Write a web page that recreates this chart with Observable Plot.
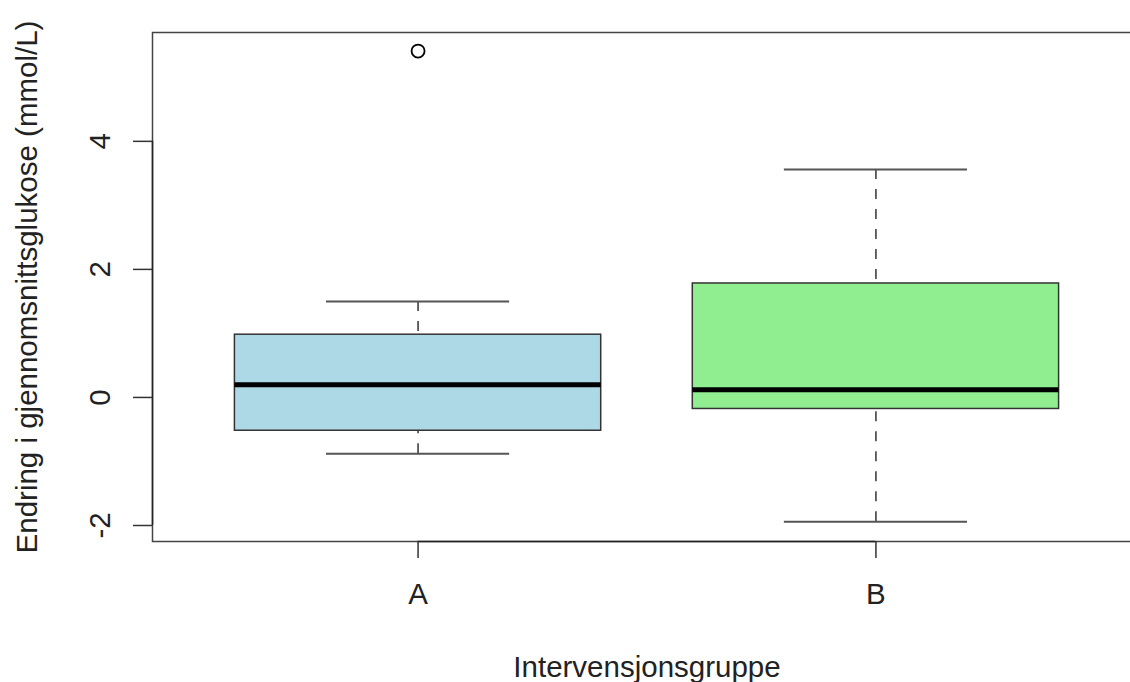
<!DOCTYPE html>
<html>
<head>
<meta charset="utf-8">
<script src="https://cdn.jsdelivr.net/npm/d3@7"></script>
<script src="https://cdn.jsdelivr.net/npm/@observablehq/plot@0.6"></script>
<style>
  html, body { margin: 0; padding: 0; background: #fff; overflow: hidden; }
  #chart svg { max-width: none !important; display: block; }
</style>
</head>
<body>
<div id="chart"></div>
<script>
// Data
const groups = ["A", "B"];
const fills = ["#ADD8E6", "#90EE90"];
const whiskerLow = [-0.88, -1.94];
const q1 = [-0.52, -0.18];
const medians = [0.20, 0.12];
const q3 = [0.98, 1.78];
const whiskerHigh = [1.50, 3.56];
const outlierGroups = ["A"];
const outlierValues = [5.41];
const yTicks = [-2, 0, 2, 4];
const yLabel = "Endring i gjennomsnittsglukose (mmol/L)";
const xLabel = "Intervensjonsgruppe";

const boxes = groups.map((g, i) => ({
  group: g, pos: i + 1, fill: fills[i],
  lo: whiskerLow[i], q1: q1[i], med: medians[i], q3: q3[i], hi: whiskerHigh[i]
}));
const outliers = outlierGroups.map((g, i) => ({pos: groups.indexOf(g) + 1, value: outlierValues[i]}));

const halfBox = 0.4, halfStaple = 0.2;
const xDomain = [0.42, 2.58];
const yDomain = [-2.25, 5.70];
const font = "'Liberation Sans', Arial, Helvetica, sans-serif";
const fs = 29.5;

const chart = Plot.plot({
  width: 1145,
  height: 682,
  marginLeft: 152,
  marginRight: 4,
  marginTop: 32,
  marginBottom: 141,
  style: {fontFamily: font, fontSize: fs + "px", color: "#222", background: "#fff", maxWidth: "none"},
  x: {domain: xDomain, axis: null},
  y: {domain: yDomain, axis: null},
  marks: [
    // boxes
    Plot.rect(boxes, {x1: d => d.pos - halfBox, x2: d => d.pos + halfBox, y1: "q1", y2: "q3", fill: "fill", stroke: "#333", strokeWidth: 1.5}),
    // dashed whiskers (drawn from staple toward box)
    Plot.ruleX(boxes, {x: "pos", y1: "hi", y2: "q3", stroke: "#333", strokeWidth: 1.5, strokeDasharray: "10,10"}),
    Plot.ruleX(boxes, {x: "pos", y1: "lo", y2: "q1", stroke: "#333", strokeWidth: 1.5, strokeDasharray: "10,10"}),
    // staples
    Plot.ruleY(boxes, {y: "hi", x1: d => d.pos - halfStaple, x2: d => d.pos + halfStaple, stroke: "#555", strokeWidth: 2}),
    Plot.ruleY(boxes, {y: "lo", x1: d => d.pos - halfStaple, x2: d => d.pos + halfStaple, stroke: "#555", strokeWidth: 2}),
    // medians
    Plot.ruleY(boxes, {y: "med", x1: d => d.pos - halfBox, x2: d => d.pos + halfBox, stroke: "#000", strokeWidth: 5}),
    // outliers
    Plot.dot(outliers, {x: "pos", y: "value", r: 6.5, stroke: "#000", strokeWidth: 1.8, fill: "none"}),
    // frame
    Plot.frame({stroke: "#444", strokeWidth: 1.5}),
    // axis lines spanning tick range
    Plot.ruleX([yDomain[0]], {x: xDomain[0], y1: yTicks[0], y2: yTicks[yTicks.length - 1], stroke: "#222", strokeWidth: 1.5}),
    Plot.ruleY([yDomain[0]], {y: d => d, x1: 1, x2: groups.length, stroke: "#222", strokeWidth: 1.5}),
    // y ticks
    Plot.axisY({ticks: yTicks, tickSize: 19, tickFormat: () => "", label: null, stroke: "#333", strokeWidth: 1.5}),
    // y tick labels (rotated like R)
    Plot.text(yTicks, {y: d => d, text: d => String(d), frameAnchor: "left", textAnchor: "middle", lineAnchor: "middle", dx: -52, rotate: -90, fontSize: fs, fill: "#222"}),
    // x ticks and labels
    Plot.axisX({ticks: groups.map((g, i) => i + 1), tickSize: 17, tickPadding: 25, tickFormat: v => groups[v - 1], label: null, fontSize: fs, stroke: "#333", strokeWidth: 1.5, fill: "#222"}),
    // axis titles
    Plot.text([xLabel], {text: d => d, frameAnchor: "bottom", textAnchor: "middle", lineAnchor: "middle", dy: 126, fontSize: fs, fill: "#222"}),
    Plot.text([yLabel], {text: d => d, frameAnchor: "left", textAnchor: "middle", lineAnchor: "middle", dx: -125, rotate: -90, fontSize: fs, fill: "#222"})
  ]
});
document.getElementById("chart").appendChild(chart);
</script>
</body>
</html>
